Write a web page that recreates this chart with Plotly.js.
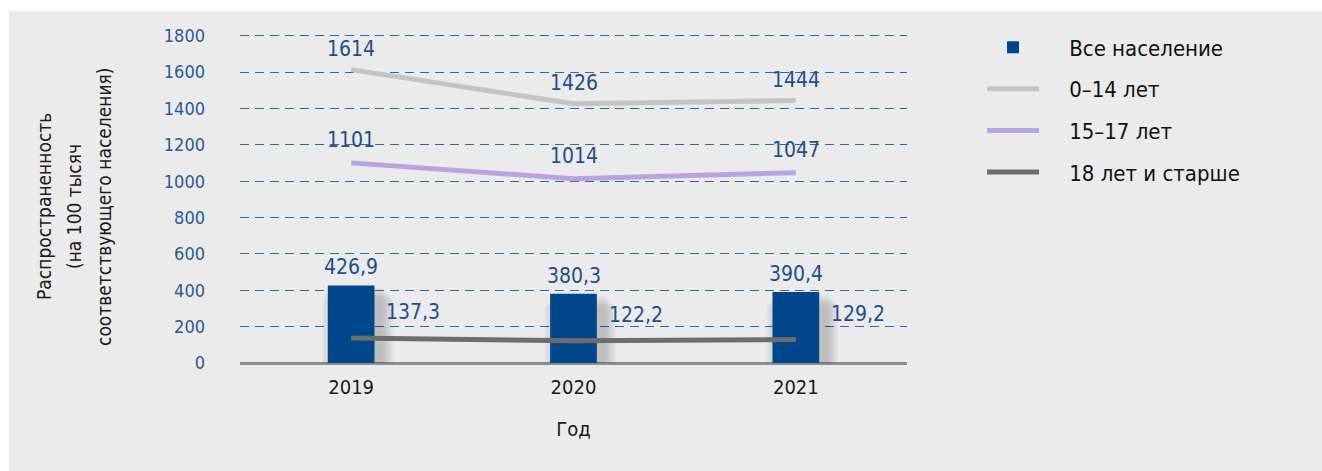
<!DOCTYPE html>
<html>
<head>
<meta charset="utf-8">
<script src="https://cdn.plot.ly/plotly-3.0.1.min.js"></script>
<style>
html,body{margin:0;padding:0;background:#ffffff;}
#chart{position:absolute;left:9px;top:11px;width:1313px;height:460px;}
</style>
</head>
<body>
<div id="chart"></div>
<script>
// ---- data ----
const years = ['2019', '2020', '2021'];
const allPopulation = [426.9, 380.3, 390.4];
const age0to14 = [1614, 1426, 1444];
const age15to17 = [1101, 1014, 1047];
const age18plus = [137.3, 122.2, 129.2];
const yTicks = [0, 200, 400, 600, 800, 1000, 1200, 1400, 1600, 1800];
const seriesNames = ['Все население', '0–14 лет', '15–17 лет', '18 лет и старше'];

const FONT = '"Liberation Sans Narrow", "DejaVu Sans Condensed", "Roboto", sans-serif';
const BLUE_TEXT = '#1b4f8e';
const PAD = '\u00a0\u00a0\u00a0\u00a0';
const BAR_W = 0.21;

const traces = [];
// soft shadow behind the bars: a few translucent, progressively wider and lower copies
for (let k = 1; k <= 5; k++) {
  const w = BAR_W + 2 * k * 0.011;
  traces.push({
    type: 'bar', x: years, y: allPopulation.map(v => v - k * 14), showlegend: false,
    width: w, offset: 0.03 - w / 2,
    marker: {color: 'rgba(0,0,0,0.04)', line: {width: 0}},
    hoverinfo: 'skip'
  });
}
traces.push(
  {
    type: 'bar', x: years, y: allPopulation, name: PAD + seriesNames[0],
    legendgroup: 'a', width: BAR_W, offset: -BAR_W / 2,
    marker: {color: '#00468a', line: {width: 0}},
    hoverinfo: 'skip'
  },
  {
    type: 'scatter', mode: 'lines', x: years, y: age0to14, name: PAD + seriesNames[1],
    legendgroup: 'b',
    line: {color: '#c4c4c4', width: 5},
    hoverinfo: 'skip'
  },
  {
    type: 'scatter', mode: 'lines', x: years, y: age15to17, name: PAD + seriesNames[2],
    legendgroup: 'c',
    line: {color: '#bba3e2', width: 5},
    hoverinfo: 'skip'
  },
  {
    type: 'scatter', mode: 'lines', x: years, y: age18plus, name: PAD + seriesNames[3],
    legendgroup: 'd',
    line: {color: '#6d6d6d', width: 5},
    hoverinfo: 'skip'
  }
);

const fmt = v => (Number.isInteger(v) ? String(v) : v.toFixed(1).replace('.', ','));
const labelFont = {family: FONT, size: 21, color: BLUE_TEXT};
const annotations = [];
// category axis: annotation x is the category index
function addLabels(values, xshift, yshift) {
  values.forEach((v, i) => annotations.push({
    x: i, y: v, xref: 'x', yref: 'y', text: fmt(v), showarrow: false,
    xshift: xshift, yshift: yshift, font: labelFont
  }));
}
addLabels(allPopulation, 0, 18);
addLabels(age0to14, 0, 21);
addLabels(age15to17, 0, 23);
addLabels(age18plus, 62, 26);

const titleLines = ['Распространенность', '(на 100 тысяч', 'соответствующего населения)'];
titleLines.forEach((t, i) => {
  annotations.push({
    xref: 'paper', yref: 'paper', x: -0.293 + i * 0.045, y: 0.476,
    xanchor: 'center', yanchor: 'middle',
    text: t, textangle: -90, showarrow: false,
    font: {family: FONT, size: 19, color: '#1a1a1a'}
  });
});

const layout = {
  width: 1313, height: 460,
  paper_bgcolor: '#ebebeb', plot_bgcolor: '#ebebeb',
  margin: {l: 231, r: 415, t: 23, b: 108},
  barmode: 'overlay',
  font: {family: FONT},
  xaxis: {
    type: 'category', showgrid: false, zeroline: false,
    showline: false, ticks: '', ticklabelstandoff: 10,
    tickfont: {family: FONT, size: 20, color: '#1a1a1a'},
    title: {text: 'Год', font: {family: FONT, size: 20, color: '#1a1a1a'}, standoff: 23}
  },
  yaxis: {
    range: [0, 1810], tickvals: yTicks, ticktext: yTicks.map(String),
    showgrid: true, gridcolor: '#3465a4', gridwidth: 1, griddash: '9px,6px',
    zeroline: true, zerolinecolor: '#8e8e8e', zerolinewidth: 3,
    showline: false, ticks: '', ticklabelstandoff: 34,
    tickfont: {family: FONT, size: 18, color: '#2a5a95'},
    fixedrange: true
  },
  showlegend: true,
  legend: {
    x: 1.1125, y: 1.023, xanchor: 'left', yanchor: 'top',
    bgcolor: 'rgba(0,0,0,0)', tracegroupgap: 10,
    itemwidth: 52,
    font: {family: FONT, size: 22, color: '#111111'}
  },
  annotations: annotations
};

Plotly.newPlot('chart', traces, layout, {staticPlot: true});
</script>
</body>
</html>
